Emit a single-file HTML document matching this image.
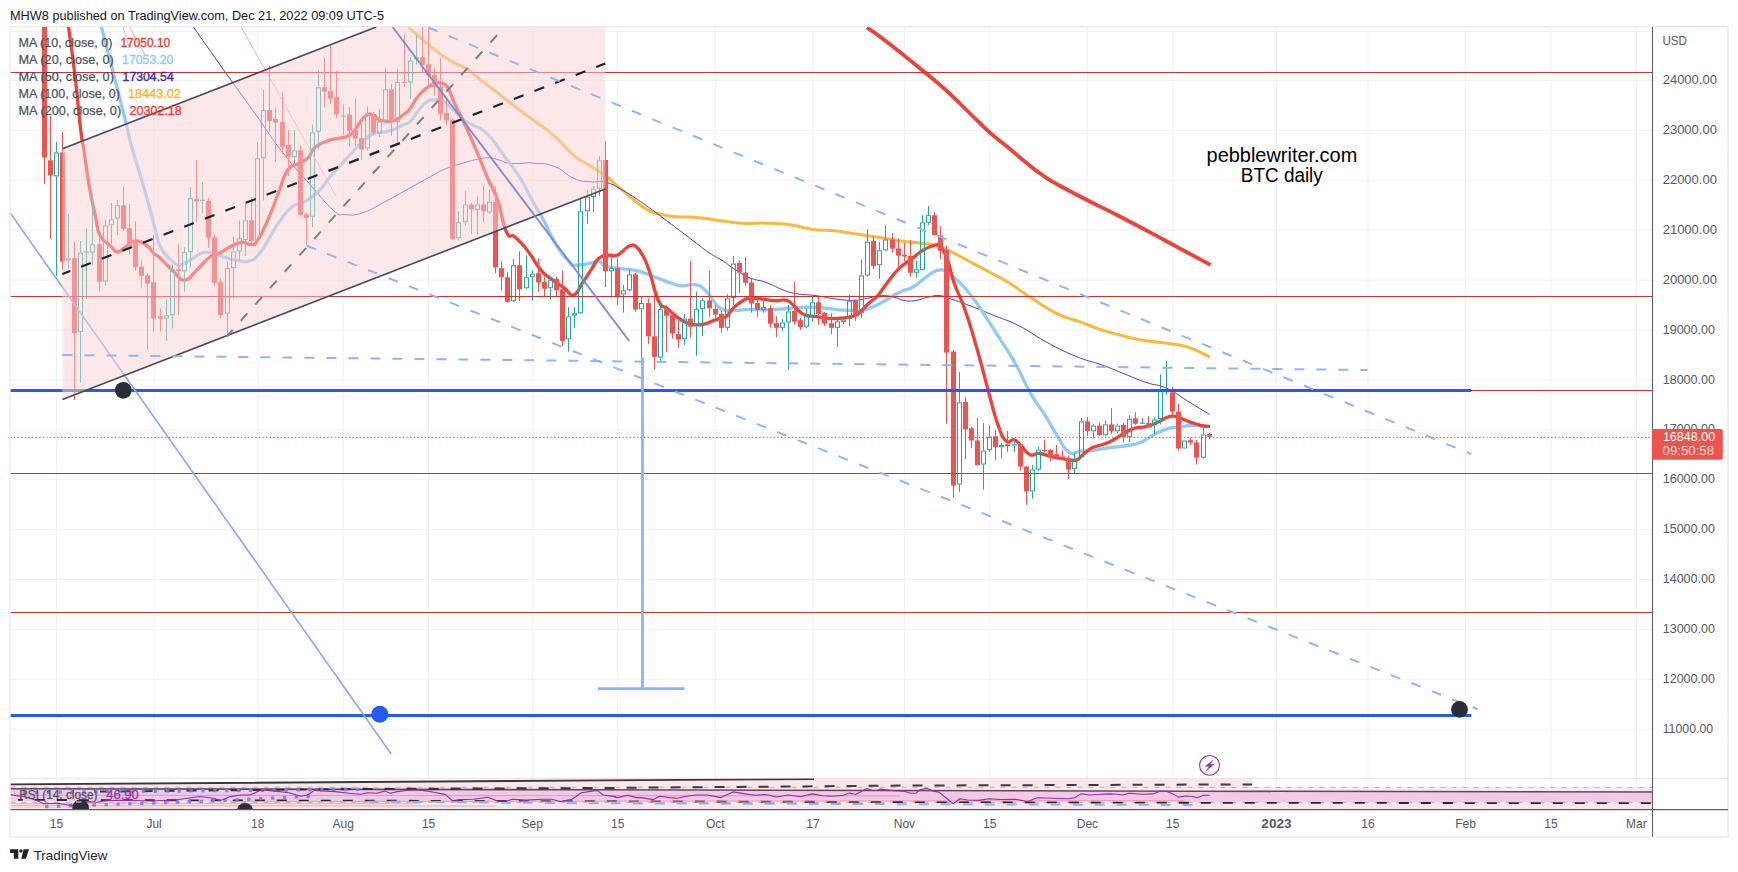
<!DOCTYPE html><html><head><meta charset="utf-8"><title>BTC daily</title><style>html,body{margin:0;padding:0;background:#fff;}svg{display:block;font-family:"Liberation Sans", Arial, sans-serif;}</style></head><body>
<svg width="1738" height="872" viewBox="0 0 1738 872">
<defs><clipPath id="cm"><rect x="10.5" y="27" width="1642" height="751.5"/></clipPath><clipPath id="cr"><rect x="10.5" y="778.5" width="1642" height="31"/></clipPath></defs>
<rect width="1738" height="872" fill="#fff"/>
<text x="10" y="19.6" font-size="12.7" fill="#131722" textLength="374" lengthAdjust="spacingAndGlyphs">MHW8 published on TradingView.com, Dec 21, 2022 09:09 UTC-5</text>
<rect x="10" y="26.7" width="1718" height="810" fill="#fff" stroke="#e0e3eb" stroke-width="1"/>
<line x1="9.5" y1="837" x2="1728.5" y2="837" stroke="#eceef5" stroke-width="2"/>
<line x1="1728" y1="26.5" x2="1728" y2="837" stroke="#eceef5" stroke-width="2"/>
<line x1="56.5" y1="27" x2="56.5" y2="809" stroke="#eef1f8" stroke-width="1"/>
<line x1="154.1" y1="27" x2="154.1" y2="809" stroke="#eef1f8" stroke-width="1"/>
<line x1="257.8" y1="27" x2="257.8" y2="809" stroke="#eef1f8" stroke-width="1"/>
<line x1="343.2" y1="27" x2="343.2" y2="809" stroke="#eef1f8" stroke-width="1"/>
<line x1="428.6" y1="27" x2="428.6" y2="809" stroke="#eef1f8" stroke-width="1"/>
<line x1="532.3" y1="27" x2="532.3" y2="809" stroke="#eef1f8" stroke-width="1"/>
<line x1="617.7" y1="27" x2="617.7" y2="809" stroke="#eef1f8" stroke-width="1"/>
<line x1="715.3" y1="27" x2="715.3" y2="809" stroke="#eef1f8" stroke-width="1"/>
<line x1="812.9" y1="27" x2="812.9" y2="809" stroke="#eef1f8" stroke-width="1"/>
<line x1="904.4" y1="27" x2="904.4" y2="809" stroke="#eef1f8" stroke-width="1"/>
<line x1="989.8" y1="27" x2="989.8" y2="809" stroke="#eef1f8" stroke-width="1"/>
<line x1="1087.4" y1="27" x2="1087.4" y2="809" stroke="#eef1f8" stroke-width="1"/>
<line x1="1172.8" y1="27" x2="1172.8" y2="809" stroke="#eef1f8" stroke-width="1"/>
<line x1="1276.5" y1="27" x2="1276.5" y2="809" stroke="#eef1f8" stroke-width="1"/>
<line x1="1368.0" y1="27" x2="1368.0" y2="809" stroke="#eef1f8" stroke-width="1"/>
<line x1="1465.6" y1="27" x2="1465.6" y2="809" stroke="#eef1f8" stroke-width="1"/>
<line x1="1551.0" y1="27" x2="1551.0" y2="809" stroke="#eef1f8" stroke-width="1"/>
<line x1="1636.4" y1="27" x2="1636.4" y2="809" stroke="#eef1f8" stroke-width="1"/>
<line x1="10.5" y1="729.2" x2="1652" y2="729.2" stroke="#eef1f8" stroke-width="1"/>
<line x1="10.5" y1="679.3" x2="1652" y2="679.3" stroke="#eef1f8" stroke-width="1"/>
<line x1="10.5" y1="629.4" x2="1652" y2="629.4" stroke="#eef1f8" stroke-width="1"/>
<line x1="10.5" y1="579.5" x2="1652" y2="579.5" stroke="#eef1f8" stroke-width="1"/>
<line x1="10.5" y1="529.6" x2="1652" y2="529.6" stroke="#eef1f8" stroke-width="1"/>
<line x1="10.5" y1="479.7" x2="1652" y2="479.7" stroke="#eef1f8" stroke-width="1"/>
<line x1="10.5" y1="429.8" x2="1652" y2="429.8" stroke="#eef1f8" stroke-width="1"/>
<line x1="10.5" y1="379.9" x2="1652" y2="379.9" stroke="#eef1f8" stroke-width="1"/>
<line x1="10.5" y1="330.0" x2="1652" y2="330.0" stroke="#eef1f8" stroke-width="1"/>
<line x1="10.5" y1="280.1" x2="1652" y2="280.1" stroke="#eef1f8" stroke-width="1"/>
<line x1="10.5" y1="230.2" x2="1652" y2="230.2" stroke="#eef1f8" stroke-width="1"/>
<line x1="10.5" y1="180.3" x2="1652" y2="180.3" stroke="#eef1f8" stroke-width="1"/>
<line x1="10.5" y1="130.4" x2="1652" y2="130.4" stroke="#eef1f8" stroke-width="1"/>
<line x1="10.5" y1="80.5" x2="1652" y2="80.5" stroke="#eef1f8" stroke-width="1"/>
<line x1="10.5" y1="31.5" x2="1652" y2="31.5" stroke="#eef1f8" stroke-width="1"/>
<g clip-path="url(#cm)">
<path d="M866.8 27.5C871.3 30.7 870.5 29.4 884.7 40.3C898.9 51.2 907.9 58.5 923.5 71.3C939.1 84.1 936.2 81.5 947.3 91.5C958.4 101.5 957.6 101.4 968.0 111.5C978.4 121.6 979.2 123.1 989.0 131.8C998.8 140.6 998.0 139.1 1007.0 146.5C1016.0 153.9 1015.8 154.3 1024.8 161.6C1033.8 168.8 1034.8 169.8 1043.0 175.5C1051.2 181.2 1046.5 178.3 1057.6 184.5C1068.7 190.7 1071.0 191.9 1087.4 200.3C1103.8 208.7 1103.1 207.8 1123.2 218.2C1143.3 228.6 1146.1 230.3 1167.9 242.0C1189.7 253.7 1199.8 259.2 1210.5 265.0" fill="none" stroke="#ee4237" stroke-width="3.8" stroke-linejoin="round" stroke-linecap="butt" />
<path d="M408.8 27.3C414.5 32.4 421.6 39.3 431.7 47.5C441.8 55.7 440.2 54.5 449.2 60.0C458.2 65.5 459.7 64.4 467.8 69.6C475.9 74.8 474.6 75.2 481.5 80.6C488.4 85.9 488.4 85.7 495.3 91.0C502.2 96.3 500.3 95.3 509.0 102.0C517.7 108.7 519.0 109.6 530.0 117.8C541.0 126.0 542.0 125.3 552.9 134.7C563.8 144.1 564.4 147.6 573.6 155.3C582.8 163.0 581.6 160.4 589.6 165.6C597.6 170.8 597.7 170.0 605.7 176.0C613.7 182.0 612.0 181.7 621.7 189.7C631.5 197.7 635.5 202.1 644.7 208.1C653.9 214.1 650.4 211.6 658.4 213.8C666.4 216.0 667.6 216.0 676.8 216.8C686.0 217.7 684.5 216.3 695.1 217.2C705.7 218.1 707.0 219.0 719.0 220.5C731.0 222.0 731.2 222.5 742.9 223.2C754.6 223.9 754.4 222.8 765.9 223.2C777.4 223.5 777.3 223.1 788.8 224.6C800.2 226.1 800.2 227.6 811.7 229.2C823.2 230.8 823.2 229.6 834.7 230.8C846.2 232.1 846.1 232.5 857.6 234.2C869.1 235.9 869.6 236.0 880.6 237.7C891.6 239.4 890.9 239.6 901.5 241.0C912.1 242.4 914.1 242.2 922.9 243.4C931.7 244.6 929.2 243.4 936.7 245.7C944.2 248.0 943.6 248.1 952.8 252.6C962.0 257.1 963.7 258.5 973.4 263.6C983.1 268.8 982.5 268.2 991.7 273.2C1000.9 278.2 1000.9 277.8 1010.1 283.5C1019.3 289.2 1016.9 288.7 1028.4 296.1C1039.9 303.6 1043.4 307.0 1056.0 313.3C1068.6 319.6 1067.9 317.4 1078.9 321.4C1089.9 325.4 1089.7 326.0 1100.0 329.4C1110.3 332.8 1109.7 332.4 1120.0 335.0C1130.3 337.6 1129.1 337.9 1141.3 340.0C1153.5 342.1 1157.3 341.7 1168.8 343.4C1180.3 345.1 1179.2 344.6 1187.2 346.9C1195.2 349.2 1195.2 350.0 1200.9 352.6C1206.6 355.2 1207.7 356.1 1210.0 357.2" fill="none" stroke="#fbb83a" stroke-width="3.0" stroke-linejoin="round" stroke-linecap="butt" />
<path d="M193.6 27.3C201.6 38.7 209.6 50.2 225.7 72.8C241.8 95.3 243.5 97.5 257.8 117.5C272.1 137.6 269.8 136.1 283.0 153.0C296.2 169.9 298.0 170.8 310.6 185.1C323.2 199.4 324.9 203.1 333.5 210.4C342.1 217.8 337.6 213.9 345.0 214.5C352.4 215.1 352.7 216.0 362.9 212.7C373.1 209.4 374.4 207.2 385.9 201.2C397.4 195.2 397.4 194.9 408.8 188.6C420.2 182.3 422.4 181.0 431.7 176.0C440.9 171.0 437.5 172.1 445.8 168.7C454.1 165.3 456.8 164.9 465.0 162.5C473.2 160.1 472.6 160.2 478.8 159.0C485.0 157.8 484.7 157.6 489.8 157.9C494.9 158.2 494.6 158.8 499.4 160.1C504.2 161.4 503.9 162.4 509.0 163.2C514.1 164.0 513.5 163.4 520.0 163.4C526.5 163.4 526.2 162.3 535.0 163.2C543.8 164.0 545.6 163.0 555.2 166.8C564.9 170.6 565.0 174.6 573.6 178.3C582.2 182.0 581.6 180.7 589.6 181.7C597.6 182.7 597.7 180.4 605.7 182.4C613.7 184.4 612.0 184.2 621.7 189.7C631.5 195.2 633.2 196.6 644.7 204.5C656.2 212.4 656.1 212.9 667.6 221.5C679.1 230.1 680.3 231.0 690.6 238.8C700.9 246.6 700.8 247.1 708.9 252.6C717.0 258.1 716.8 257.0 723.0 261.0C729.2 265.0 727.1 264.4 733.8 268.6C740.5 272.8 741.8 274.4 749.8 277.8C757.8 281.2 757.3 279.2 765.9 282.4C774.5 285.5 776.2 287.5 784.2 290.4C792.2 293.3 790.0 292.6 798.0 293.9C806.0 295.2 807.1 294.4 816.3 295.7C825.5 296.9 825.5 297.8 834.7 298.9C843.9 300.0 845.0 300.4 853.0 300.3C861.0 300.2 859.9 299.5 866.8 298.4C873.7 297.2 873.7 296.0 880.6 295.7C887.5 295.4 888.6 296.1 894.3 297.3C900.0 298.5 898.3 299.5 903.5 300.3C908.7 301.1 909.0 301.4 915.0 300.7C921.0 299.9 921.2 298.6 927.5 297.3C933.8 296.1 933.8 295.1 940.1 295.7C946.4 296.3 945.6 297.2 952.8 299.6C960.0 302.0 959.1 301.6 968.8 305.3C978.5 309.0 979.1 309.3 991.7 314.5C1004.3 319.7 1005.8 319.2 1019.3 326.0C1032.8 332.8 1031.6 334.0 1045.5 341.5C1059.4 349.0 1061.0 350.2 1075.0 356.0C1089.0 361.8 1089.5 360.5 1101.5 364.8C1113.5 369.1 1111.8 368.9 1122.9 373.3C1134.0 377.7 1135.0 378.7 1145.9 382.4C1156.8 386.1 1156.2 383.6 1166.5 388.2C1176.8 392.8 1176.4 394.2 1187.2 400.8C1198.0 407.4 1204.0 411.1 1209.6 414.5" fill="none" stroke="#5e35b1" stroke-width="1" stroke-linejoin="round" stroke-linecap="butt" />
<path d="M101.3 26.6C104.2 38.0 107.1 48.9 113.0 72.0C118.9 95.1 120.2 99.9 125.0 119.0C129.8 138.1 128.5 135.0 132.1 148.3C135.7 161.6 135.7 159.8 139.4 172.2C143.1 184.6 143.6 186.4 146.8 197.9C150.0 209.4 149.8 208.4 152.3 218.0C154.8 227.6 155.0 229.4 156.9 236.4C158.8 243.4 158.0 241.6 160.0 246.0C162.0 250.4 161.8 250.1 165.0 254.0C168.2 257.9 169.2 258.9 172.9 261.7C176.6 264.5 175.2 265.8 179.8 265.2C184.4 264.6 185.6 262.5 191.3 259.4C197.1 256.2 197.1 254.0 202.8 252.6C208.5 251.2 207.9 252.3 214.2 253.7C220.5 255.1 221.1 256.4 228.0 258.3C234.9 260.2 236.0 260.5 241.7 261.1C247.4 261.7 246.3 262.7 250.9 260.6C255.5 258.5 255.3 258.5 260.1 252.6C264.9 246.7 265.1 244.8 270.0 237.0C274.9 229.2 273.9 229.1 279.5 221.5C285.1 213.9 285.6 211.8 292.2 206.7C298.8 201.6 299.1 205.2 306.0 201.0C312.9 196.8 314.0 195.7 319.7 190.0C325.4 184.3 323.8 184.4 328.9 178.3C334.0 172.2 333.8 172.5 340.0 165.6C346.2 158.7 347.5 157.3 353.8 150.7C360.1 144.1 360.1 143.6 365.2 139.3C370.3 135.0 368.6 135.5 374.4 133.5C380.1 131.5 380.8 133.4 388.2 131.2C395.6 128.9 398.8 126.8 404.2 124.5C409.6 122.2 406.5 125.3 410.0 121.9C413.5 118.5 414.2 115.9 418.3 110.9C422.4 105.9 422.6 104.8 426.5 102.0C430.4 99.2 430.0 100.1 434.1 99.9C438.2 99.7 438.7 99.2 443.0 101.3C447.3 103.3 446.5 103.8 451.3 108.1C456.1 112.4 457.2 114.4 462.3 118.5C467.4 122.6 466.8 121.7 471.9 124.6C477.0 127.5 477.8 126.4 482.9 130.2C488.0 134.0 487.4 133.6 492.5 139.8C497.6 146.0 498.7 148.4 503.5 154.9C508.3 161.4 507.3 159.6 511.8 165.9C516.3 172.2 516.2 171.2 521.4 180.0C526.6 188.8 527.1 191.1 532.7 201.2C538.3 211.3 538.2 209.9 543.8 220.5C549.4 231.1 548.9 233.1 555.2 243.4C561.5 253.7 563.8 256.2 569.0 261.7C574.2 267.1 570.2 264.9 575.9 265.2C581.6 265.5 586.2 264.0 591.9 262.9C597.6 261.8 595.3 259.8 598.8 260.6C602.2 261.5 600.0 264.3 605.7 266.3C611.4 268.3 613.7 267.5 621.7 268.6C629.7 269.8 629.8 268.9 637.8 270.9C645.8 272.9 645.3 273.5 653.9 276.7C662.5 279.9 665.3 281.2 672.2 283.5C679.1 285.8 675.7 285.5 681.4 285.8C687.1 286.1 689.4 283.8 695.1 284.7C700.8 285.6 699.7 285.3 704.3 289.3C708.9 293.3 709.5 295.9 713.5 300.7C717.5 305.5 716.3 305.9 720.4 308.4C724.5 310.9 722.6 310.6 730.0 310.8C737.4 311.1 740.8 309.6 749.8 309.4C758.8 309.2 757.3 310.0 765.9 309.9C774.5 309.8 776.2 309.4 784.2 308.8C792.2 308.2 791.1 308.0 798.0 307.6C804.9 307.2 804.8 307.1 811.7 307.2C818.6 307.3 818.6 307.4 825.5 308.1C832.4 308.8 832.4 309.3 839.3 309.9C846.2 310.5 847.3 310.3 853.0 310.4C858.7 310.5 857.6 311.1 862.2 310.4C866.8 309.7 865.7 310.0 871.4 307.6C877.1 305.2 879.4 303.9 885.1 300.7C890.8 297.5 889.7 297.5 894.3 295.0C898.9 292.5 898.6 292.7 903.5 290.6C908.4 288.5 907.4 290.6 914.0 286.5C920.6 282.4 923.3 278.6 929.8 274.4C936.3 270.2 935.5 270.1 940.1 269.8C944.7 269.5 943.3 270.1 948.2 273.2C953.1 276.3 953.3 276.1 959.6 282.4C965.9 288.7 966.5 289.2 973.4 298.4C980.3 307.6 980.4 308.8 987.2 319.1C994.0 329.5 993.3 328.3 1000.6 339.8C1007.9 351.3 1008.9 351.9 1016.3 365.2C1023.7 378.4 1023.2 380.8 1030.1 392.8C1037.0 404.9 1037.0 402.5 1043.9 413.4C1050.8 424.3 1051.3 426.6 1057.6 436.3C1063.9 446.1 1063.3 448.7 1069.1 452.4C1074.8 456.1 1074.3 451.8 1080.6 451.2C1086.9 450.6 1087.4 451.0 1094.3 450.1C1101.2 449.2 1099.8 449.0 1108.1 447.8C1116.4 446.6 1119.2 446.9 1127.5 445.5C1135.8 444.1 1134.4 445.0 1141.3 442.1C1148.2 439.2 1148.1 437.4 1155.0 434.0C1161.9 430.6 1162.5 430.0 1168.8 428.3C1175.1 426.6 1174.6 427.9 1180.3 427.2C1186.0 426.4 1186.0 425.6 1191.7 425.3C1197.4 425.0 1198.6 425.7 1203.2 426.0C1207.8 426.3 1208.3 426.4 1210.0 426.5" fill="none" stroke="#90caf9" stroke-width="3.3" stroke-linejoin="round" stroke-linecap="butt" />
<path d="M68.5 26.6C70.2 40.0 72.5 54.1 75.5 80.0C78.5 105.9 78.5 112.0 80.7 130.0C82.9 148.0 82.1 138.0 84.2 152.0C86.3 166.0 86.4 169.9 89.2 186.0C92.0 202.1 92.7 203.8 95.4 216.2C98.1 228.6 96.3 228.2 100.0 235.5C103.7 242.8 105.8 241.5 110.1 245.6C114.4 249.7 113.7 251.6 117.4 252.0C121.1 252.4 120.2 250.2 124.8 247.4C129.4 244.7 130.3 241.4 135.8 241.0C141.3 240.6 142.2 242.4 146.8 245.6C151.4 248.8 151.0 251.0 154.1 253.9C157.2 256.8 154.5 252.9 159.2 257.2C163.9 261.4 166.6 265.2 172.9 270.9C179.2 276.6 178.7 280.1 184.4 280.1C190.2 280.1 189.6 276.6 195.9 270.9C202.2 265.2 203.9 261.5 209.6 257.2C215.3 252.9 214.2 256.0 218.8 253.7C223.4 251.4 222.3 250.9 228.0 248.0C233.7 245.1 236.0 243.1 241.7 242.2C247.4 241.3 246.9 245.1 250.9 244.5C254.9 243.9 253.2 247.0 257.8 240.0C262.4 233.0 264.2 228.2 269.3 216.5C274.4 204.8 273.8 204.6 278.4 193.0C283.0 181.4 282.4 177.6 287.6 170.2C292.8 162.8 293.9 166.5 299.1 163.3C304.3 160.2 304.3 161.6 308.3 157.6C312.3 153.6 310.0 151.6 315.1 147.3C320.2 143.0 322.7 142.7 328.9 140.4C335.1 138.1 334.4 139.7 340.0 138.0C345.6 136.3 345.2 138.9 351.5 133.5C357.8 128.1 359.5 120.7 365.2 116.3C370.9 111.9 370.9 115.0 374.4 115.9C377.8 116.8 374.4 118.5 379.0 119.8C383.6 121.0 386.5 122.4 392.8 120.9C399.1 119.5 399.9 117.0 404.2 114.0C408.5 111.0 407.2 112.3 410.0 108.8C412.8 105.3 412.4 104.2 415.5 99.9C418.6 95.6 418.6 95.2 422.4 91.6C426.2 88.0 426.5 87.6 430.6 85.4C434.7 83.2 435.3 82.9 438.9 82.7C442.5 82.5 442.5 82.9 445.1 84.8C447.7 86.7 446.6 85.1 449.2 90.3C451.8 95.5 451.9 97.9 455.4 105.4C458.8 113.0 459.2 112.6 463.0 120.5C466.8 128.4 466.6 128.1 470.5 137.0C474.4 145.9 474.3 145.6 478.8 156.3C483.3 167.1 485.2 172.6 488.4 180.0C491.5 187.4 488.9 180.5 491.4 186.0C493.9 191.5 494.6 190.6 498.3 202.1C502.0 213.6 502.3 223.3 506.3 231.9C510.3 240.5 510.0 233.1 514.3 236.5C518.6 239.9 519.6 241.3 523.5 245.7C527.4 250.1 525.5 247.7 530.0 254.0C534.5 260.3 535.8 264.4 541.5 270.9C547.2 277.4 547.2 275.8 552.9 280.1C558.6 284.4 559.2 284.4 564.4 288.1C569.6 291.8 569.0 296.4 573.6 295.0C578.2 293.6 578.2 289.0 582.8 282.4C587.4 275.8 587.9 274.6 591.9 268.6C595.9 262.6 594.8 261.6 598.8 258.3C602.8 255.0 603.4 256.1 608.0 255.3C612.6 254.6 612.6 257.1 617.2 255.3C621.8 253.5 622.9 250.4 626.3 248.0C629.7 245.6 628.6 246.2 630.9 245.7C633.2 245.2 632.6 243.8 635.5 246.1C638.4 248.4 639.0 248.7 642.4 254.9C645.8 261.1 645.3 259.4 649.3 270.9C653.3 282.3 653.8 291.2 658.4 300.7C663.0 310.2 663.0 304.8 667.6 308.8C672.2 312.8 672.2 313.4 676.8 316.8C681.4 320.2 681.4 320.5 686.0 322.5C690.6 324.5 690.5 324.4 695.1 324.8C699.7 325.2 699.7 325.2 704.3 324.1C708.9 323.0 709.1 322.1 713.5 320.5C717.9 318.9 718.6 318.6 722.0 317.5C725.4 316.4 724.0 318.5 726.9 316.0C729.8 313.5 729.8 311.4 733.8 307.6C737.8 303.8 738.9 303.0 742.9 300.7C746.9 298.4 745.2 298.8 749.8 298.4C754.4 297.9 755.0 298.3 761.3 298.9C767.6 299.5 768.7 300.3 775.0 300.7C781.3 301.1 781.9 299.1 786.5 300.3C791.1 301.5 790.0 302.3 793.4 305.3C796.8 308.3 796.8 309.6 800.3 312.2C803.8 314.8 802.6 314.5 807.2 315.6C811.8 316.8 812.9 316.1 818.6 316.8C824.3 317.6 823.8 318.3 830.1 318.6C836.4 318.9 837.6 318.6 843.9 317.9C850.2 317.1 850.7 317.6 855.3 315.6C859.9 313.6 858.8 313.0 862.2 309.9C865.7 306.8 865.1 306.7 869.1 303.0C873.1 299.3 873.7 300.1 878.3 295.0C882.9 289.9 882.2 289.0 887.4 282.4C892.5 275.8 893.0 274.4 898.9 268.6C904.8 262.9 905.0 264.0 911.0 259.4C917.0 254.8 917.0 253.9 922.9 250.3C928.8 246.8 930.6 246.5 934.4 245.2C938.2 243.9 936.3 244.8 938.0 245.2C939.7 245.6 938.8 242.7 941.3 246.8C943.8 250.9 945.1 252.8 948.2 261.7C951.4 270.6 949.9 270.9 953.9 282.4C957.9 293.9 959.3 294.0 964.2 307.6C969.1 321.2 969.2 322.1 973.6 337.0C978.0 351.9 978.2 353.1 982.0 367.0C985.8 380.9 984.8 378.3 988.8 392.8C992.8 407.3 993.7 412.9 998.0 424.9C1002.3 436.9 1002.0 437.2 1006.0 440.9C1010.0 444.6 1010.3 438.6 1014.0 439.8C1017.7 441.0 1016.9 441.8 1020.9 445.5C1024.9 449.2 1025.5 452.7 1030.1 454.7C1034.7 456.7 1033.6 452.9 1039.3 453.5C1045.0 454.1 1046.1 455.6 1053.0 457.0C1059.9 458.4 1061.0 458.5 1066.8 459.3C1072.5 460.1 1072.0 461.5 1076.0 460.4C1080.0 459.2 1078.8 457.8 1082.8 454.7C1086.8 451.6 1087.5 450.2 1092.0 447.8C1096.5 445.4 1096.1 446.7 1101.0 445.0C1105.9 443.3 1106.0 443.6 1111.5 440.9C1117.0 438.1 1117.2 437.1 1122.9 434.0C1128.6 430.9 1128.7 430.1 1134.4 428.3C1140.2 426.5 1140.2 428.1 1145.9 426.7C1151.6 425.3 1152.2 424.9 1157.3 422.6C1162.4 420.3 1162.5 419.1 1166.5 417.5C1170.5 415.9 1170.0 416.0 1173.4 416.1C1176.9 416.2 1175.7 416.4 1180.3 418.0C1184.9 419.6 1186.5 420.8 1191.7 422.6C1196.9 424.4 1196.3 424.3 1200.9 425.3C1205.5 426.3 1207.7 426.4 1210.0 426.7" fill="none" stroke="#ee4237" stroke-width="3.3" stroke-linejoin="round" stroke-linecap="butt" />
<path d="M44.5 20.0V183.8" stroke="#ef5350" stroke-width="1" fill="none"/>
<rect x="42.0" y="20.0" width="5" height="137.5" fill="#ef5350"/>
<path d="M50.5 116.0V238.6" stroke="#ef5350" stroke-width="1" fill="none"/>
<rect x="48.0" y="160.3" width="5" height="15.2" fill="#ef5350"/>
<path d="M56.5 142.0V152.4M56.5 176.4V275.9" stroke="#26a69a" stroke-width="1" fill="none"/>
<rect x="54.5" y="152.9" width="4" height="23.0" fill="none" stroke="#26a69a" stroke-width="1"/>
<path d="M62.5 132.2V269.8" stroke="#ef5350" stroke-width="1" fill="none"/>
<rect x="60.0" y="152.4" width="5" height="109.3" fill="#ef5350"/>
<path d="M68.5 214.0V258.4M68.5 260.6V268.5" stroke="#26a69a" stroke-width="1" fill="none"/>
<rect x="66.5" y="258.9" width="4" height="1.2" fill="none" stroke="#26a69a" stroke-width="1"/>
<path d="M74.5 242.0V399.8" stroke="#ef5350" stroke-width="1" fill="none"/>
<rect x="72.0" y="258.1" width="5" height="74.7" fill="#ef5350"/>
<path d="M80.5 241.0V252.6M80.5 332.1V382.6" stroke="#26a69a" stroke-width="1" fill="none"/>
<rect x="78.5" y="253.1" width="4" height="78.5" fill="none" stroke="#26a69a" stroke-width="1"/>
<path d="M86.5 228.2V251.5M86.5 252.7V298.5" stroke="#26a69a" stroke-width="1" fill="none"/>
<rect x="84.0" y="251.5" width="5" height="1.2" fill="#26a69a"/>
<path d="M92.5 194.6V244.3M92.5 252.6V264.9" stroke="#26a69a" stroke-width="1" fill="none"/>
<rect x="90.5" y="244.8" width="4" height="7.3" fill="none" stroke="#26a69a" stroke-width="1"/>
<path d="M99.5 238.0V291.6" stroke="#ef5350" stroke-width="1" fill="none"/>
<rect x="97.0" y="244.1" width="5" height="37.7" fill="#ef5350"/>
<path d="M105.5 220.0V225.4M105.5 281.5V285.5" stroke="#26a69a" stroke-width="1" fill="none"/>
<rect x="103.5" y="225.9" width="4" height="55.1" fill="none" stroke="#26a69a" stroke-width="1"/>
<path d="M111.5 203.0V219.4M111.5 225.4V243.8" stroke="#26a69a" stroke-width="1" fill="none"/>
<rect x="109.5" y="219.9" width="4" height="5.0" fill="none" stroke="#26a69a" stroke-width="1"/>
<path d="M117.5 199.7V205.2M117.5 218.6V235.0" stroke="#26a69a" stroke-width="1" fill="none"/>
<rect x="115.5" y="205.7" width="4" height="12.4" fill="none" stroke="#26a69a" stroke-width="1"/>
<path d="M123.5 186.0V231.0" stroke="#ef5350" stroke-width="1" fill="none"/>
<rect x="121.0" y="205.2" width="5" height="23.9" fill="#ef5350"/>
<path d="M129.5 204.0V254.8" stroke="#ef5350" stroke-width="1" fill="none"/>
<rect x="127.0" y="228.2" width="5" height="17.8" fill="#ef5350"/>
<path d="M135.5 221.2V270.8" stroke="#ef5350" stroke-width="1" fill="none"/>
<rect x="133.0" y="241.9" width="5" height="25.4" fill="#ef5350"/>
<path d="M141.5 260.0V287.5" stroke="#ef5350" stroke-width="1" fill="none"/>
<rect x="139.0" y="266.7" width="5" height="9.1" fill="#ef5350"/>
<path d="M147.5 273.0V349.9" stroke="#ef5350" stroke-width="1" fill="none"/>
<rect x="145.0" y="275.2" width="5" height="8.4" fill="#ef5350"/>
<path d="M153.5 235.0V331.6" stroke="#ef5350" stroke-width="1" fill="none"/>
<rect x="151.0" y="282.2" width="5" height="36.4" fill="#ef5350"/>
<path d="M160.5 308.3V331.7" stroke="#ef5350" stroke-width="1" fill="none"/>
<rect x="158.0" y="316.2" width="5" height="2.4" fill="#ef5350"/>
<path d="M166.5 299.1V315.2M166.5 318.6V340.9" stroke="#26a69a" stroke-width="1" fill="none"/>
<rect x="164.5" y="315.7" width="4" height="2.4" fill="none" stroke="#26a69a" stroke-width="1"/>
<path d="M172.5 264.5V269.3M172.5 315.2V328.3" stroke="#26a69a" stroke-width="1" fill="none"/>
<rect x="170.5" y="269.8" width="4" height="44.9" fill="none" stroke="#26a69a" stroke-width="1"/>
<path d="M178.5 244.1V315.0" stroke="#ef5350" stroke-width="1" fill="none"/>
<rect x="176.0" y="269.3" width="5" height="2.1" fill="#ef5350"/>
<path d="M184.5 247.3V252.1M184.5 271.4V291.6" stroke="#26a69a" stroke-width="1" fill="none"/>
<rect x="182.5" y="252.6" width="4" height="18.3" fill="none" stroke="#26a69a" stroke-width="1"/>
<path d="M190.5 187.3V198.2M190.5 252.1V267.5" stroke="#26a69a" stroke-width="1" fill="none"/>
<rect x="188.5" y="198.7" width="4" height="52.9" fill="none" stroke="#26a69a" stroke-width="1"/>
<path d="M196.5 159.9V221.6" stroke="#ef5350" stroke-width="1" fill="none"/>
<rect x="194.0" y="199.2" width="5" height="2.2" fill="#ef5350"/>
<path d="M202.5 182.4V199.8M202.5 201.0V213.2" stroke="#26a69a" stroke-width="1" fill="none"/>
<rect x="200.0" y="199.8" width="5" height="1.2" fill="#26a69a"/>
<path d="M208.5 198.0V248.0" stroke="#ef5350" stroke-width="1" fill="none"/>
<rect x="206.0" y="200.8" width="5" height="36.9" fill="#ef5350"/>
<path d="M214.5 235.0V285.8" stroke="#ef5350" stroke-width="1" fill="none"/>
<rect x="212.0" y="237.2" width="5" height="45.6" fill="#ef5350"/>
<path d="M220.5 278.3V317.9" stroke="#ef5350" stroke-width="1" fill="none"/>
<rect x="218.0" y="281.9" width="5" height="33.1" fill="#ef5350"/>
<path d="M227.5 261.3V268.2M227.5 313.6V336.3" stroke="#26a69a" stroke-width="1" fill="none"/>
<rect x="225.5" y="268.7" width="4" height="44.4" fill="none" stroke="#26a69a" stroke-width="1"/>
<path d="M233.5 236.5V251.4M233.5 268.2V298.4" stroke="#26a69a" stroke-width="1" fill="none"/>
<rect x="231.5" y="251.9" width="4" height="15.8" fill="none" stroke="#26a69a" stroke-width="1"/>
<path d="M239.5 220.5V238.3M239.5 251.4V260.6" stroke="#26a69a" stroke-width="1" fill="none"/>
<rect x="237.5" y="238.8" width="4" height="12.1" fill="none" stroke="#26a69a" stroke-width="1"/>
<path d="M245.5 201.2V220.3M245.5 240.0V256.0" stroke="#26a69a" stroke-width="1" fill="none"/>
<rect x="243.5" y="220.8" width="4" height="18.7" fill="none" stroke="#26a69a" stroke-width="1"/>
<path d="M251.5 197.2V243.0" stroke="#ef5350" stroke-width="1" fill="none"/>
<rect x="249.0" y="220.2" width="5" height="20.9" fill="#ef5350"/>
<path d="M257.5 142.2V158.3M257.5 240.0V241.5" stroke="#26a69a" stroke-width="1" fill="none"/>
<rect x="255.5" y="158.8" width="4" height="80.7" fill="none" stroke="#26a69a" stroke-width="1"/>
<path d="M263.5 90.0V110.1M263.5 158.3V200.5" stroke="#26a69a" stroke-width="1" fill="none"/>
<rect x="261.5" y="110.6" width="4" height="47.2" fill="none" stroke="#26a69a" stroke-width="1"/>
<path d="M269.5 65.9V132.4" stroke="#ef5350" stroke-width="1" fill="none"/>
<rect x="267.0" y="110.1" width="5" height="10.8" fill="#ef5350"/>
<path d="M275.5 107.6V162.2" stroke="#ef5350" stroke-width="1" fill="none"/>
<rect x="273.0" y="119.0" width="5" height="3.8" fill="#ef5350"/>
<path d="M282.5 92.2V154.2" stroke="#ef5350" stroke-width="1" fill="none"/>
<rect x="280.0" y="122.0" width="5" height="24.8" fill="#ef5350"/>
<path d="M288.5 130.0V176.0" stroke="#ef5350" stroke-width="1" fill="none"/>
<rect x="286.0" y="145.0" width="5" height="11.9" fill="#ef5350"/>
<path d="M294.5 130.0V150.3M294.5 156.9V163.3" stroke="#26a69a" stroke-width="1" fill="none"/>
<rect x="292.5" y="150.8" width="4" height="5.6" fill="none" stroke="#26a69a" stroke-width="1"/>
<path d="M300.5 145.7V216.8" stroke="#ef5350" stroke-width="1" fill="none"/>
<rect x="298.0" y="150.3" width="5" height="64.7" fill="#ef5350"/>
<path d="M306.5 213.0V245.2" stroke="#ef5350" stroke-width="1" fill="none"/>
<rect x="304.0" y="214.3" width="5" height="3.4" fill="#ef5350"/>
<path d="M312.5 124.4V132.4M312.5 216.8V227.0" stroke="#26a69a" stroke-width="1" fill="none"/>
<rect x="310.5" y="132.9" width="4" height="83.4" fill="none" stroke="#26a69a" stroke-width="1"/>
<path d="M318.5 70.0V87.2M318.5 131.7V149.6" stroke="#26a69a" stroke-width="1" fill="none"/>
<rect x="316.5" y="87.7" width="4" height="43.5" fill="none" stroke="#26a69a" stroke-width="1"/>
<path d="M324.5 57.8V107.6" stroke="#ef5350" stroke-width="1" fill="none"/>
<rect x="322.0" y="87.2" width="5" height="4.4" fill="#ef5350"/>
<path d="M330.5 46.4V103.7" stroke="#ef5350" stroke-width="1" fill="none"/>
<rect x="328.0" y="91.1" width="5" height="7.6" fill="#ef5350"/>
<path d="M336.5 70.9V118.2" stroke="#ef5350" stroke-width="1" fill="none"/>
<rect x="334.0" y="97.1" width="5" height="17.4" fill="#ef5350"/>
<path d="M343.5 104.4V134.7" stroke="#ef5350" stroke-width="1" fill="none"/>
<rect x="341.0" y="115.7" width="5" height="1.2" fill="#ef5350"/>
<path d="M349.5 107.2V146.6" stroke="#ef5350" stroke-width="1" fill="none"/>
<rect x="347.0" y="114.5" width="5" height="16.3" fill="#ef5350"/>
<path d="M355.5 98.0V145.7" stroke="#ef5350" stroke-width="1" fill="none"/>
<rect x="353.0" y="130.1" width="5" height="8.5" fill="#ef5350"/>
<path d="M361.5 119.1V159.9" stroke="#ef5350" stroke-width="1" fill="none"/>
<rect x="359.0" y="138.1" width="5" height="11.5" fill="#ef5350"/>
<path d="M367.5 106.0V114.5M367.5 148.4V150.7" stroke="#26a69a" stroke-width="1" fill="none"/>
<rect x="365.5" y="115.0" width="4" height="32.9" fill="none" stroke="#26a69a" stroke-width="1"/>
<path d="M373.5 111.7V134.7" stroke="#ef5350" stroke-width="1" fill="none"/>
<rect x="371.0" y="114.0" width="5" height="18.8" fill="#ef5350"/>
<path d="M379.5 109.0V121.6M379.5 133.5V137.0" stroke="#26a69a" stroke-width="1" fill="none"/>
<rect x="377.5" y="122.1" width="4" height="10.9" fill="none" stroke="#26a69a" stroke-width="1"/>
<path d="M385.5 68.2V89.3M385.5 120.9V122.0" stroke="#26a69a" stroke-width="1" fill="none"/>
<rect x="383.5" y="89.8" width="4" height="30.6" fill="none" stroke="#26a69a" stroke-width="1"/>
<path d="M391.5 84.2V135.8" stroke="#ef5350" stroke-width="1" fill="none"/>
<rect x="389.0" y="89.3" width="5" height="32.7" fill="#ef5350"/>
<path d="M397.5 68.9V81.9M397.5 122.0V143.9" stroke="#26a69a" stroke-width="1" fill="none"/>
<rect x="395.5" y="82.4" width="4" height="39.1" fill="none" stroke="#26a69a" stroke-width="1"/>
<path d="M404.5 34.2V87.2" stroke="#ef5350" stroke-width="1" fill="none"/>
<rect x="402.0" y="81.8" width="5" height="1.2" fill="#ef5350"/>
<path d="M410.5 56.7V60.6M410.5 82.4V99.1" stroke="#26a69a" stroke-width="1" fill="none"/>
<rect x="408.5" y="61.1" width="4" height="20.8" fill="none" stroke="#26a69a" stroke-width="1"/>
<path d="M416.5 34.9V57.2M416.5 59.4V64.7" stroke="#26a69a" stroke-width="1" fill="none"/>
<rect x="414.0" y="57.2" width="5" height="2.2" fill="#26a69a"/>
<path d="M422.5 20.0V72.8" stroke="#ef5350" stroke-width="1" fill="none"/>
<rect x="420.0" y="57.2" width="5" height="7.5" fill="#ef5350"/>
<path d="M428.5 20.0V86.5" stroke="#ef5350" stroke-width="1" fill="none"/>
<rect x="426.0" y="64.3" width="5" height="11.2" fill="#ef5350"/>
<path d="M434.5 67.7V95.7" stroke="#ef5350" stroke-width="1" fill="none"/>
<rect x="432.0" y="75.0" width="5" height="12.2" fill="#ef5350"/>
<path d="M440.5 57.8V120.5" stroke="#ef5350" stroke-width="1" fill="none"/>
<rect x="438.0" y="86.5" width="5" height="27.5" fill="#ef5350"/>
<path d="M446.5 99.1V125.0" stroke="#ef5350" stroke-width="1" fill="none"/>
<rect x="444.0" y="112.9" width="5" height="7.6" fill="#ef5350"/>
<path d="M452.5 118.0V240.0" stroke="#ef5350" stroke-width="1" fill="none"/>
<rect x="450.0" y="119.8" width="5" height="119.0" fill="#ef5350"/>
<path d="M458.5 211.3V222.3M458.5 238.3V240.6" stroke="#26a69a" stroke-width="1" fill="none"/>
<rect x="456.5" y="222.8" width="4" height="15.0" fill="none" stroke="#26a69a" stroke-width="1"/>
<path d="M465.5 191.1V204.4M465.5 222.3V225.7" stroke="#26a69a" stroke-width="1" fill="none"/>
<rect x="463.5" y="204.9" width="4" height="16.9" fill="none" stroke="#26a69a" stroke-width="1"/>
<path d="M471.5 203.0V234.2" stroke="#ef5350" stroke-width="1" fill="none"/>
<rect x="469.0" y="204.4" width="5" height="5.0" fill="#ef5350"/>
<path d="M477.5 196.4V204.4M477.5 210.1V234.2" stroke="#26a69a" stroke-width="1" fill="none"/>
<rect x="475.5" y="204.9" width="4" height="4.7" fill="none" stroke="#26a69a" stroke-width="1"/>
<path d="M483.5 185.6V222.3" stroke="#ef5350" stroke-width="1" fill="none"/>
<rect x="481.0" y="204.4" width="5" height="6.9" fill="#ef5350"/>
<path d="M489.5 189.5V201.7M489.5 212.4V213.6" stroke="#26a69a" stroke-width="1" fill="none"/>
<rect x="487.5" y="202.2" width="4" height="9.7" fill="none" stroke="#26a69a" stroke-width="1"/>
<path d="M495.5 186.0V273.2" stroke="#ef5350" stroke-width="1" fill="none"/>
<rect x="493.0" y="201.7" width="5" height="65.8" fill="#ef5350"/>
<path d="M501.5 261.3V290.4" stroke="#ef5350" stroke-width="1" fill="none"/>
<rect x="499.0" y="268.2" width="5" height="9.1" fill="#ef5350"/>
<path d="M507.5 272.0V302.6" stroke="#ef5350" stroke-width="1" fill="none"/>
<rect x="505.0" y="277.3" width="5" height="24.6" fill="#ef5350"/>
<path d="M513.5 259.0V265.2M513.5 301.2V301.9" stroke="#26a69a" stroke-width="1" fill="none"/>
<rect x="511.5" y="265.7" width="4" height="35.0" fill="none" stroke="#26a69a" stroke-width="1"/>
<path d="M519.5 251.4V301.2" stroke="#ef5350" stroke-width="1" fill="none"/>
<rect x="517.0" y="265.2" width="5" height="24.1" fill="#ef5350"/>
<path d="M526.5 255.3V277.3M526.5 288.3V289.3" stroke="#26a69a" stroke-width="1" fill="none"/>
<rect x="524.5" y="277.8" width="4" height="10.0" fill="none" stroke="#26a69a" stroke-width="1"/>
<path d="M532.5 270.5V273.7M532.5 277.3V300.7" stroke="#26a69a" stroke-width="1" fill="none"/>
<rect x="530.5" y="274.2" width="4" height="2.6" fill="none" stroke="#26a69a" stroke-width="1"/>
<path d="M538.5 258.3V291.6" stroke="#ef5350" stroke-width="1" fill="none"/>
<rect x="536.0" y="273.2" width="5" height="9.2" fill="#ef5350"/>
<path d="M544.5 276.7V296.1" stroke="#ef5350" stroke-width="1" fill="none"/>
<rect x="542.0" y="281.9" width="5" height="6.9" fill="#ef5350"/>
<path d="M550.5 277.8V279.6M550.5 288.3V299.6" stroke="#26a69a" stroke-width="1" fill="none"/>
<rect x="548.5" y="280.1" width="4" height="7.7" fill="none" stroke="#26a69a" stroke-width="1"/>
<path d="M556.5 276.7V297.3" stroke="#ef5350" stroke-width="1" fill="none"/>
<rect x="554.0" y="278.9" width="5" height="11.5" fill="#ef5350"/>
<path d="M562.5 270.9V346.1" stroke="#ef5350" stroke-width="1" fill="none"/>
<rect x="560.0" y="289.3" width="5" height="51.6" fill="#ef5350"/>
<path d="M568.5 307.2V316.3M568.5 339.3V351.7" stroke="#26a69a" stroke-width="1" fill="none"/>
<rect x="566.5" y="316.8" width="4" height="22.0" fill="none" stroke="#26a69a" stroke-width="1"/>
<path d="M574.5 307.2V313.3M574.5 315.6V327.8" stroke="#26a69a" stroke-width="1" fill="none"/>
<rect x="572.5" y="313.8" width="4" height="1.3" fill="none" stroke="#26a69a" stroke-width="1"/>
<path d="M580.5 198.9V211.3M580.5 313.3V314.0" stroke="#26a69a" stroke-width="1" fill="none"/>
<rect x="578.5" y="211.8" width="4" height="101.0" fill="none" stroke="#26a69a" stroke-width="1"/>
<path d="M587.5 189.3V196.6M587.5 211.3V223.9" stroke="#26a69a" stroke-width="1" fill="none"/>
<rect x="585.5" y="197.1" width="4" height="13.7" fill="none" stroke="#26a69a" stroke-width="1"/>
<path d="M593.5 186.3V188.6M593.5 197.0V212.0" stroke="#26a69a" stroke-width="1" fill="none"/>
<rect x="591.5" y="189.1" width="4" height="7.4" fill="none" stroke="#26a69a" stroke-width="1"/>
<path d="M599.5 156.0V160.4M599.5 188.6V196.0" stroke="#26a69a" stroke-width="1" fill="none"/>
<rect x="597.5" y="160.9" width="4" height="27.2" fill="none" stroke="#26a69a" stroke-width="1"/>
<path d="M605.5 141.1V287.0" stroke="#ef5350" stroke-width="1" fill="none"/>
<rect x="603.0" y="160.0" width="5" height="111.4" fill="#ef5350"/>
<path d="M611.5 253.0V268.2M611.5 271.4V297.8" stroke="#26a69a" stroke-width="1" fill="none"/>
<rect x="609.5" y="268.7" width="4" height="2.2" fill="none" stroke="#26a69a" stroke-width="1"/>
<path d="M617.5 258.3V304.9" stroke="#ef5350" stroke-width="1" fill="none"/>
<rect x="615.0" y="268.2" width="5" height="27.9" fill="#ef5350"/>
<path d="M623.5 284.7V290.4M623.5 294.5V312.7" stroke="#26a69a" stroke-width="1" fill="none"/>
<rect x="621.5" y="290.9" width="4" height="3.1" fill="none" stroke="#26a69a" stroke-width="1"/>
<path d="M629.5 269.8V274.4M629.5 290.4V291.6" stroke="#26a69a" stroke-width="1" fill="none"/>
<rect x="627.5" y="274.9" width="4" height="15.0" fill="none" stroke="#26a69a" stroke-width="1"/>
<path d="M635.5 273.0V311.7" stroke="#ef5350" stroke-width="1" fill="none"/>
<rect x="633.0" y="274.4" width="5" height="35.0" fill="#ef5350"/>
<path d="M641.5 296.1V303.0M641.5 309.4V365.0" stroke="#26a69a" stroke-width="1" fill="none"/>
<rect x="639.5" y="303.5" width="4" height="5.4" fill="none" stroke="#26a69a" stroke-width="1"/>
<path d="M648.5 298.4V343.9" stroke="#ef5350" stroke-width="1" fill="none"/>
<rect x="646.0" y="303.0" width="5" height="33.3" fill="#ef5350"/>
<path d="M654.5 291.6V369.5" stroke="#ef5350" stroke-width="1" fill="none"/>
<rect x="652.0" y="336.3" width="5" height="20.6" fill="#ef5350"/>
<path d="M660.5 303.0V309.2M660.5 357.6V360.8" stroke="#26a69a" stroke-width="1" fill="none"/>
<rect x="658.5" y="309.7" width="4" height="47.4" fill="none" stroke="#26a69a" stroke-width="1"/>
<path d="M666.5 305.3V352.3" stroke="#ef5350" stroke-width="1" fill="none"/>
<rect x="664.0" y="309.2" width="5" height="6.4" fill="#ef5350"/>
<path d="M672.5 313.5V338.6" stroke="#ef5350" stroke-width="1" fill="none"/>
<rect x="670.0" y="315.0" width="5" height="18.5" fill="#ef5350"/>
<path d="M678.5 320.2V347.7" stroke="#ef5350" stroke-width="1" fill="none"/>
<rect x="676.0" y="334.0" width="5" height="5.7" fill="#ef5350"/>
<path d="M684.5 314.0V318.6M684.5 339.3V344.8" stroke="#26a69a" stroke-width="1" fill="none"/>
<rect x="682.5" y="319.1" width="4" height="19.7" fill="none" stroke="#26a69a" stroke-width="1"/>
<path d="M690.5 261.0V337.4" stroke="#ef5350" stroke-width="1" fill="none"/>
<rect x="688.0" y="318.6" width="5" height="8.1" fill="#ef5350"/>
<path d="M696.5 291.6V309.2M696.5 326.0V355.8" stroke="#26a69a" stroke-width="1" fill="none"/>
<rect x="694.5" y="309.7" width="4" height="15.8" fill="none" stroke="#26a69a" stroke-width="1"/>
<path d="M702.5 298.0V300.3M702.5 309.2V336.3" stroke="#26a69a" stroke-width="1" fill="none"/>
<rect x="700.5" y="300.8" width="4" height="7.9" fill="none" stroke="#26a69a" stroke-width="1"/>
<path d="M709.5 270.9V316.8" stroke="#ef5350" stroke-width="1" fill="none"/>
<rect x="707.0" y="300.3" width="5" height="8.0" fill="#ef5350"/>
<path d="M715.5 305.3V319.0" stroke="#ef5350" stroke-width="1" fill="none"/>
<rect x="713.0" y="308.8" width="5" height="5.7" fill="#ef5350"/>
<path d="M721.5 311.0V332.8" stroke="#ef5350" stroke-width="1" fill="none"/>
<rect x="719.0" y="314.0" width="5" height="13.8" fill="#ef5350"/>
<path d="M727.5 294.3V298.4M727.5 327.8V330.6" stroke="#26a69a" stroke-width="1" fill="none"/>
<rect x="725.5" y="298.9" width="4" height="28.4" fill="none" stroke="#26a69a" stroke-width="1"/>
<path d="M733.5 256.0V263.6M733.5 298.0V304.9" stroke="#26a69a" stroke-width="1" fill="none"/>
<rect x="731.5" y="264.1" width="4" height="33.4" fill="none" stroke="#26a69a" stroke-width="1"/>
<path d="M739.5 260.6V292.7" stroke="#ef5350" stroke-width="1" fill="none"/>
<rect x="737.0" y="262.9" width="5" height="9.6" fill="#ef5350"/>
<path d="M745.5 257.2V285.8" stroke="#ef5350" stroke-width="1" fill="none"/>
<rect x="743.0" y="272.5" width="5" height="10.3" fill="#ef5350"/>
<path d="M751.5 277.8V312.7" stroke="#ef5350" stroke-width="1" fill="none"/>
<rect x="749.0" y="282.4" width="5" height="21.1" fill="#ef5350"/>
<path d="M757.5 299.6V316.8" stroke="#ef5350" stroke-width="1" fill="none"/>
<rect x="755.0" y="303.0" width="5" height="6.9" fill="#ef5350"/>
<path d="M763.5 299.6V307.2M763.5 309.9V312.7" stroke="#26a69a" stroke-width="1" fill="none"/>
<rect x="761.5" y="307.7" width="4" height="1.7" fill="none" stroke="#26a69a" stroke-width="1"/>
<path d="M770.5 304.9V327.8" stroke="#ef5350" stroke-width="1" fill="none"/>
<rect x="768.0" y="308.1" width="5" height="15.6" fill="#ef5350"/>
<path d="M776.5 316.3V337.0" stroke="#ef5350" stroke-width="1" fill="none"/>
<rect x="774.0" y="323.2" width="5" height="4.6" fill="#ef5350"/>
<path d="M782.5 318.6V322.5M782.5 327.8V331.2" stroke="#26a69a" stroke-width="1" fill="none"/>
<rect x="780.5" y="323.0" width="4" height="4.3" fill="none" stroke="#26a69a" stroke-width="1"/>
<path d="M788.5 304.9V311.5M788.5 322.5V370.0" stroke="#26a69a" stroke-width="1" fill="none"/>
<rect x="786.5" y="312.0" width="4" height="10.0" fill="none" stroke="#26a69a" stroke-width="1"/>
<path d="M794.5 281.9V324.8" stroke="#ef5350" stroke-width="1" fill="none"/>
<rect x="792.0" y="311.0" width="5" height="10.8" fill="#ef5350"/>
<path d="M800.5 317.9V329.9" stroke="#ef5350" stroke-width="1" fill="none"/>
<rect x="798.0" y="320.2" width="5" height="6.9" fill="#ef5350"/>
<path d="M806.5 308.3V316.3M806.5 326.7V328.3" stroke="#26a69a" stroke-width="1" fill="none"/>
<rect x="804.5" y="316.8" width="4" height="9.4" fill="none" stroke="#26a69a" stroke-width="1"/>
<path d="M812.5 295.7V302.3M812.5 316.3V321.8" stroke="#26a69a" stroke-width="1" fill="none"/>
<rect x="810.5" y="302.8" width="4" height="13.0" fill="none" stroke="#26a69a" stroke-width="1"/>
<path d="M818.5 295.7V324.8" stroke="#ef5350" stroke-width="1" fill="none"/>
<rect x="816.0" y="302.3" width="5" height="11.7" fill="#ef5350"/>
<path d="M824.5 311.7V326.0" stroke="#ef5350" stroke-width="1" fill="none"/>
<rect x="822.0" y="312.9" width="5" height="10.8" fill="#ef5350"/>
<path d="M831.5 313.3V334.0" stroke="#ef5350" stroke-width="1" fill="none"/>
<rect x="829.0" y="323.2" width="5" height="4.6" fill="#ef5350"/>
<path d="M837.5 317.9V321.4M837.5 327.8V347.0" stroke="#26a69a" stroke-width="1" fill="none"/>
<rect x="835.5" y="321.9" width="4" height="5.4" fill="none" stroke="#26a69a" stroke-width="1"/>
<path d="M843.5 317.9V319.5M843.5 321.8V324.1" stroke="#26a69a" stroke-width="1" fill="none"/>
<rect x="841.5" y="320.0" width="4" height="1.3" fill="none" stroke="#26a69a" stroke-width="1"/>
<path d="M849.5 295.0V301.2M849.5 319.1V326.0" stroke="#26a69a" stroke-width="1" fill="none"/>
<rect x="847.5" y="301.7" width="4" height="16.9" fill="none" stroke="#26a69a" stroke-width="1"/>
<path d="M855.5 299.6V320.9" stroke="#ef5350" stroke-width="1" fill="none"/>
<rect x="853.0" y="300.7" width="5" height="14.3" fill="#ef5350"/>
<path d="M861.5 259.4V275.5M861.5 313.3V317.9" stroke="#26a69a" stroke-width="1" fill="none"/>
<rect x="859.5" y="276.0" width="4" height="36.8" fill="none" stroke="#26a69a" stroke-width="1"/>
<path d="M867.5 229.2V241.6M867.5 275.5V276.7" stroke="#26a69a" stroke-width="1" fill="none"/>
<rect x="865.5" y="242.1" width="4" height="32.9" fill="none" stroke="#26a69a" stroke-width="1"/>
<path d="M873.5 236.0V269.1" stroke="#ef5350" stroke-width="1" fill="none"/>
<rect x="871.0" y="241.1" width="5" height="24.8" fill="#ef5350"/>
<path d="M879.5 242.2V250.3M879.5 265.2V278.9" stroke="#26a69a" stroke-width="1" fill="none"/>
<rect x="877.5" y="250.8" width="4" height="13.9" fill="none" stroke="#26a69a" stroke-width="1"/>
<path d="M885.5 225.7V239.5M885.5 250.3V250.8" stroke="#26a69a" stroke-width="1" fill="none"/>
<rect x="883.5" y="240.0" width="4" height="9.8" fill="none" stroke="#26a69a" stroke-width="1"/>
<path d="M892.5 233.0V252.6" stroke="#ef5350" stroke-width="1" fill="none"/>
<rect x="890.0" y="239.5" width="5" height="9.2" fill="#ef5350"/>
<path d="M898.5 238.3V267.5" stroke="#ef5350" stroke-width="1" fill="none"/>
<rect x="896.0" y="248.4" width="5" height="7.2" fill="#ef5350"/>
<path d="M904.5 242.9V261.3" stroke="#ef5350" stroke-width="1" fill="none"/>
<rect x="902.0" y="254.9" width="5" height="1.6" fill="#ef5350"/>
<path d="M910.5 240.0V276.7" stroke="#ef5350" stroke-width="1" fill="none"/>
<rect x="908.0" y="256.0" width="5" height="16.8" fill="#ef5350"/>
<path d="M916.5 260.6V269.3M916.5 272.8V277.8" stroke="#26a69a" stroke-width="1" fill="none"/>
<rect x="914.5" y="269.8" width="4" height="2.5" fill="none" stroke="#26a69a" stroke-width="1"/>
<path d="M922.5 215.2V222.3M922.5 269.8V270.5" stroke="#26a69a" stroke-width="1" fill="none"/>
<rect x="920.5" y="222.8" width="4" height="46.5" fill="none" stroke="#26a69a" stroke-width="1"/>
<path d="M928.5 206.0V215.2M928.5 222.8V225.0" stroke="#26a69a" stroke-width="1" fill="none"/>
<rect x="926.5" y="215.7" width="4" height="6.6" fill="none" stroke="#26a69a" stroke-width="1"/>
<path d="M934.5 212.0V235.6" stroke="#ef5350" stroke-width="1" fill="none"/>
<rect x="932.0" y="215.2" width="5" height="19.7" fill="#ef5350"/>
<path d="M940.5 226.2V259.4" stroke="#ef5350" stroke-width="1" fill="none"/>
<rect x="938.0" y="235.4" width="5" height="15.3" fill="#ef5350"/>
<path d="M946.5 245.7V423.7" stroke="#ef5350" stroke-width="1" fill="none"/>
<rect x="944.0" y="249.8" width="5" height="102.8" fill="#ef5350"/>
<path d="M953.5 350.0V497.8" stroke="#ef5350" stroke-width="1" fill="none"/>
<rect x="951.0" y="351.5" width="5" height="134.1" fill="#ef5350"/>
<path d="M959.5 372.1V402.4M959.5 484.5V491.8" stroke="#26a69a" stroke-width="1" fill="none"/>
<rect x="957.5" y="402.9" width="4" height="81.1" fill="none" stroke="#26a69a" stroke-width="1"/>
<path d="M965.5 396.9V459.3" stroke="#ef5350" stroke-width="1" fill="none"/>
<rect x="963.0" y="401.9" width="5" height="27.5" fill="#ef5350"/>
<path d="M971.5 426.7V448.3" stroke="#ef5350" stroke-width="1" fill="none"/>
<rect x="969.0" y="428.3" width="5" height="12.2" fill="#ef5350"/>
<path d="M977.5 417.5V465.7" stroke="#ef5350" stroke-width="1" fill="none"/>
<rect x="975.0" y="440.5" width="5" height="24.5" fill="#ef5350"/>
<path d="M983.5 423.0V450.6M983.5 464.5V489.5" stroke="#26a69a" stroke-width="1" fill="none"/>
<rect x="981.5" y="451.1" width="4" height="12.9" fill="none" stroke="#26a69a" stroke-width="1"/>
<path d="M989.5 425.3V436.8M989.5 450.1V451.9" stroke="#26a69a" stroke-width="1" fill="none"/>
<rect x="987.5" y="437.3" width="4" height="12.3" fill="none" stroke="#26a69a" stroke-width="1"/>
<path d="M995.5 429.9V460.4" stroke="#ef5350" stroke-width="1" fill="none"/>
<rect x="993.0" y="436.3" width="5" height="11.0" fill="#ef5350"/>
<path d="M1001.5 443.2V445.0M1001.5 447.3V458.6" stroke="#26a69a" stroke-width="1" fill="none"/>
<rect x="999.5" y="445.5" width="4" height="1.3" fill="none" stroke="#26a69a" stroke-width="1"/>
<path d="M1007.5 431.0V451.7" stroke="#ef5350" stroke-width="1" fill="none"/>
<rect x="1005.0" y="444.4" width="5" height="1.6" fill="#ef5350"/>
<path d="M1014.5 438.6V444.3M1014.5 445.6V451.7" stroke="#26a69a" stroke-width="1" fill="none"/>
<rect x="1012.0" y="444.3" width="5" height="1.2" fill="#26a69a"/>
<path d="M1020.5 443.2V470.7" stroke="#ef5350" stroke-width="1" fill="none"/>
<rect x="1018.0" y="444.4" width="5" height="22.2" fill="#ef5350"/>
<path d="M1026.5 465.7V504.7" stroke="#ef5350" stroke-width="1" fill="none"/>
<rect x="1024.0" y="466.6" width="5" height="24.8" fill="#ef5350"/>
<path d="M1032.5 465.0V469.6M1032.5 491.4V498.7" stroke="#26a69a" stroke-width="1" fill="none"/>
<rect x="1030.5" y="470.1" width="4" height="20.8" fill="none" stroke="#26a69a" stroke-width="1"/>
<path d="M1038.5 447.1V449.6M1038.5 469.6V471.4" stroke="#26a69a" stroke-width="1" fill="none"/>
<rect x="1036.5" y="450.1" width="4" height="19.0" fill="none" stroke="#26a69a" stroke-width="1"/>
<path d="M1044.5 440.2V452.4" stroke="#ef5350" stroke-width="1" fill="none"/>
<rect x="1042.0" y="450.0" width="5" height="1.2" fill="#ef5350"/>
<path d="M1050.5 448.9V461.6" stroke="#ef5350" stroke-width="1" fill="none"/>
<rect x="1048.0" y="450.1" width="5" height="6.2" fill="#ef5350"/>
<path d="M1056.5 445.0V459.3" stroke="#ef5350" stroke-width="1" fill="none"/>
<rect x="1054.0" y="454.2" width="5" height="3.2" fill="#ef5350"/>
<path d="M1062.5 450.1V459.3" stroke="#ef5350" stroke-width="1" fill="none"/>
<rect x="1060.0" y="456.5" width="5" height="1.6" fill="#ef5350"/>
<path d="M1068.5 455.4V478.8" stroke="#ef5350" stroke-width="1" fill="none"/>
<rect x="1066.0" y="458.1" width="5" height="11.5" fill="#ef5350"/>
<path d="M1074.5 452.8V458.6M1074.5 469.1V473.5" stroke="#26a69a" stroke-width="1" fill="none"/>
<rect x="1072.5" y="459.1" width="4" height="9.5" fill="none" stroke="#26a69a" stroke-width="1"/>
<path d="M1081.5 418.0V421.4M1081.5 457.4V458.1" stroke="#26a69a" stroke-width="1" fill="none"/>
<rect x="1079.5" y="421.9" width="4" height="35.0" fill="none" stroke="#26a69a" stroke-width="1"/>
<path d="M1087.5 416.8V435.9" stroke="#ef5350" stroke-width="1" fill="none"/>
<rect x="1085.0" y="421.4" width="5" height="9.7" fill="#ef5350"/>
<path d="M1093.5 423.7V425.6M1093.5 431.3V438.6" stroke="#26a69a" stroke-width="1" fill="none"/>
<rect x="1091.5" y="426.1" width="4" height="4.7" fill="none" stroke="#26a69a" stroke-width="1"/>
<path d="M1099.5 422.6V435.9" stroke="#ef5350" stroke-width="1" fill="none"/>
<rect x="1097.0" y="425.6" width="5" height="9.6" fill="#ef5350"/>
<path d="M1105.5 420.3V424.4M1105.5 435.2V435.9" stroke="#26a69a" stroke-width="1" fill="none"/>
<rect x="1103.5" y="424.9" width="4" height="9.8" fill="none" stroke="#26a69a" stroke-width="1"/>
<path d="M1111.5 408.1V434.0" stroke="#ef5350" stroke-width="1" fill="none"/>
<rect x="1109.0" y="424.4" width="5" height="6.9" fill="#ef5350"/>
<path d="M1117.5 423.7V425.6M1117.5 431.3V433.6" stroke="#26a69a" stroke-width="1" fill="none"/>
<rect x="1115.5" y="426.1" width="4" height="4.7" fill="none" stroke="#26a69a" stroke-width="1"/>
<path d="M1123.5 423.0V442.5" stroke="#ef5350" stroke-width="1" fill="none"/>
<rect x="1121.0" y="424.9" width="5" height="12.6" fill="#ef5350"/>
<path d="M1129.5 415.2V418.7M1129.5 436.8V442.0" stroke="#26a69a" stroke-width="1" fill="none"/>
<rect x="1127.5" y="419.2" width="4" height="17.1" fill="none" stroke="#26a69a" stroke-width="1"/>
<path d="M1135.5 412.2V424.9" stroke="#ef5350" stroke-width="1" fill="none"/>
<rect x="1133.0" y="418.4" width="5" height="5.3" fill="#ef5350"/>
<path d="M1142.5 418.0V422.6M1142.5 423.9V423.9" stroke="#26a69a" stroke-width="1" fill="none"/>
<rect x="1140.0" y="422.6" width="5" height="1.2" fill="#26a69a"/>
<path d="M1148.5 416.1V427.2" stroke="#ef5350" stroke-width="1" fill="none"/>
<rect x="1146.0" y="423.0" width="5" height="3.7" fill="#ef5350"/>
<path d="M1154.5 417.5V419.6M1154.5 425.3V434.0" stroke="#26a69a" stroke-width="1" fill="none"/>
<rect x="1152.5" y="420.1" width="4" height="4.7" fill="none" stroke="#26a69a" stroke-width="1"/>
<path d="M1160.5 374.4V390.0M1160.5 419.1V424.4" stroke="#26a69a" stroke-width="1" fill="none"/>
<rect x="1158.5" y="390.5" width="4" height="28.1" fill="none" stroke="#26a69a" stroke-width="1"/>
<path d="M1166.5 361.1V389.4M1166.5 390.6V395.0" stroke="#26a69a" stroke-width="1" fill="none"/>
<rect x="1164.0" y="389.4" width="5" height="1.2" fill="#26a69a"/>
<path d="M1172.5 387.0V414.5" stroke="#ef5350" stroke-width="1" fill="none"/>
<rect x="1170.0" y="392.3" width="5" height="19.3" fill="#ef5350"/>
<path d="M1178.5 403.8V450.6" stroke="#ef5350" stroke-width="1" fill="none"/>
<rect x="1176.0" y="411.6" width="5" height="36.9" fill="#ef5350"/>
<path d="M1184.5 440.5V440.5M1184.5 448.5V448.5" stroke="#26a69a" stroke-width="1" fill="none"/>
<rect x="1182.5" y="441.0" width="4" height="7.0" fill="none" stroke="#26a69a" stroke-width="1"/>
<path d="M1190.5 437.5V445.0" stroke="#ef5350" stroke-width="1" fill="none"/>
<rect x="1188.0" y="440.2" width="5" height="2.3" fill="#ef5350"/>
<path d="M1196.5 440.0V464.5" stroke="#ef5350" stroke-width="1" fill="none"/>
<rect x="1194.0" y="442.5" width="5" height="15.2" fill="#ef5350"/>
<path d="M1203.5 427.8V434.5M1203.5 457.7V458.8" stroke="#26a69a" stroke-width="1" fill="none"/>
<rect x="1201.5" y="435.0" width="4" height="22.2" fill="none" stroke="#26a69a" stroke-width="1"/>
<path d="M1209.5 432.9V439.1" stroke="#ef5350" stroke-width="1" fill="none"/>
<rect x="1207.0" y="434.0" width="5" height="2.8" fill="#ef5350"/>
<line x1="10.5" y1="72.5" x2="1652" y2="72.5" stroke="#d32f2f" stroke-width="1"/>
<line x1="10.5" y1="296.5" x2="1652" y2="296.5" stroke="#d32f2f" stroke-width="1"/>
<line x1="10.5" y1="390.5" x2="1652" y2="390.5" stroke="#d32f2f" stroke-width="1"/>
<line x1="10.5" y1="473.5" x2="1652" y2="473.5" stroke="#d32f2f" stroke-width="1"/>
<line x1="10.5" y1="612.5" x2="1652" y2="612.5" stroke="#d32f2f" stroke-width="1"/>
<line x1="10.5" y1="390.5" x2="1471.3" y2="390.5" stroke="#2459fb" stroke-width="3"/>
<line x1="10.5" y1="715.4" x2="1471.3" y2="715.4" stroke="#2459fb" stroke-width="3"/>
<line x1="10.5" y1="213.4" x2="391.2" y2="754" stroke="#84a9f7" stroke-width="1.6"/>
<line x1="123" y1="27" x2="129.5" y2="48.2" stroke="#f48a8a" stroke-width="0.7"/>
<line x1="129.5" y1="27" x2="145.1" y2="55.1" stroke="#f48a8a" stroke-width="0.7"/>
<line x1="241.2" y1="27" x2="335.8" y2="195.5" stroke="#f48a8a" stroke-width="0.7"/>
<polygon points="62.4,148.7 376.2,27 605.3,27 605.3,188.9 62.4,399.4" fill="#fbd1d3" fill-opacity="0.5"/>
<line x1="10.5" y1="437.4" x2="1652" y2="437.4" stroke="#ef5350" stroke-width="1.2" stroke-dasharray="1.2 2.4"/>
<line x1="62.4" y1="148.7" x2="376.2" y2="27" stroke="#484a52" stroke-width="1.6"/>
<line x1="62.4" y1="399.4" x2="605.3" y2="188.9" stroke="#484a52" stroke-width="1.6"/>
<line x1="62.4" y1="274.0" x2="605.3" y2="63.5" stroke="#1e222d" stroke-width="2.2" stroke-dasharray="10.4 11.7" stroke-dashoffset="2"/>
<line x1="226.8" y1="336.3" x2="498.6" y2="33.4" stroke="#7f7f7f" stroke-width="2" stroke-dasharray="10 12" stroke-dashoffset="1.3"/>
<line x1="392.6" y1="27" x2="629.1" y2="340.9" stroke="#7482d6" stroke-width="1.9" stroke-opacity="0.9"/>
<line x1="428.2" y1="27.5" x2="1471.3" y2="454" stroke="#8db6f7" stroke-width="2" stroke-dasharray="10 12"/>
<line x1="62.4" y1="354.9" x2="1367.5" y2="370" stroke="#8db6f7" stroke-width="2" stroke-dasharray="10 12"/>
<line x1="306.7" y1="245.7" x2="1477.7" y2="709.3" stroke="#8db6f7" stroke-width="2" stroke-dasharray="10 12"/>
<line x1="642.5" y1="357.6" x2="642.5" y2="689" stroke="#8fb3f5" stroke-width="2.8"/>
<line x1="598" y1="688.6" x2="684.5" y2="688.6" stroke="#8fb3f5" stroke-width="2.8"/>
<circle cx="123.3" cy="390.3" r="8.4" fill="#2a2e39"/>
<circle cx="379.8" cy="714.2" r="8.5" fill="#2459fb"/>
<circle cx="1459.5" cy="709.4" r="8.4" fill="#2a2e39"/>
<text x="1281.9" y="162.4" font-size="20" fill="#000" text-anchor="middle" textLength="150.7" lengthAdjust="spacingAndGlyphs">pebblewriter.com</text>
<text x="1281.8" y="182.2" font-size="20" fill="#000" text-anchor="middle" textLength="82" lengthAdjust="spacingAndGlyphs">BTC daily</text>
<g transform="translate(1209.5 765.4)"><circle r="9.9" fill="#fff" stroke="#9c27b0" stroke-width="1.1"/><path d="M3.7 -5.3L-4.3 0.9H-0.3L-3.4 5.6L4.2 -0.9H0.4Z" fill="#9c27b0" stroke="#9c27b0" stroke-width="0.4" stroke-linejoin="round"/></g>
</g>
<text x="18.5" y="47.0" font-size="12.5" fill="#4a4e59" stroke="#4a4e59" stroke-width="0.2" textLength="93.8" lengthAdjust="spacingAndGlyphs">MA (10, close, 0)</text>
<text x="120.4" y="47.0" font-size="12.5" fill="#f23b30" stroke="#f23b30" stroke-width="0.35" textLength="49.8" lengthAdjust="spacingAndGlyphs">17050.10</text>
<text x="18.5" y="64.0" font-size="12.5" fill="#4a4e59" stroke="#4a4e59" stroke-width="0.2" textLength="95.2" lengthAdjust="spacingAndGlyphs">MA (20, close, 0)</text>
<text x="122.1" y="64.0" font-size="12.5" fill="#90caf9" stroke="#90caf9" stroke-width="0.35" textLength="51.3" lengthAdjust="spacingAndGlyphs">17053.20</text>
<text x="18.5" y="80.9" font-size="12.5" fill="#4a4e59" stroke="#4a4e59" stroke-width="0.2" textLength="95.4" lengthAdjust="spacingAndGlyphs">MA (50, close, 0)</text>
<text x="122.6" y="80.9" font-size="12.5" fill="#4527a0" stroke="#4527a0" stroke-width="0.35" textLength="51.1" lengthAdjust="spacingAndGlyphs">17304.54</text>
<text x="18.5" y="97.8" font-size="12.5" fill="#4a4e59" stroke="#4a4e59" stroke-width="0.2" textLength="101.4" lengthAdjust="spacingAndGlyphs">MA (100, close, 0)</text>
<text x="128.1" y="97.8" font-size="12.5" fill="#fbb32b" stroke="#fbb32b" stroke-width="0.35" textLength="52.7" lengthAdjust="spacingAndGlyphs">18443.02</text>
<text x="18.5" y="114.8" font-size="12.5" fill="#4a4e59" stroke="#4a4e59" stroke-width="0.2" textLength="102.7" lengthAdjust="spacingAndGlyphs">MA (200, close, 0)</text>
<text x="129.6" y="114.8" font-size="12.5" fill="#f23b30" stroke="#f23b30" stroke-width="0.35" textLength="52.2" lengthAdjust="spacingAndGlyphs">20302.18</text>
<line x1="10.5" y1="778.3" x2="1728" y2="778.3" stroke="#e0e3eb" stroke-width="1"/>
<g clip-path="url(#cr)">
<polygon points="10.5,784.4 600,780.4 814,779 1252,779 1252,790 10.5,790" fill="#fde6e8"/>
<rect x="1252" y="787" width="400" height="5" fill="#f6e9f8"/>
<polygon points="10.5,789 600,790 1200,791.5 1652,792.3 1652,802.2 10.5,801" fill="#f1c9e1"/>
<polygon points="10.5,801 1652,802.4 1652,809.5 10.5,809.5" fill="#fde6e8"/>
<line x1="10.5" y1="803.7" x2="420" y2="803.7" stroke="#f9b4b4" stroke-width="1.2"/>
<line x1="10.5" y1="805.6" x2="495" y2="806" stroke="#f39a9a" stroke-width="0.8"/>
<line x1="10.5" y1="807" x2="180" y2="809" stroke="#fbc4c4" stroke-width="0.9"/>
<line x1="60" y1="806" x2="185" y2="808.6" stroke="#fbcaca" stroke-width="0.8"/>
<polyline points="10.5,784.4 600,780.4 814,779" fill="none" stroke="#3a3540" stroke-width="1.8"/>
<line x1="10.5" y1="787.2" x2="1652" y2="787.4" stroke="#a9aeaa" stroke-width="0.9" stroke-dasharray="5 6"/>
<line x1="10.5" y1="802.3" x2="1652" y2="802.6" stroke="#a9aeaa" stroke-width="0.9" stroke-dasharray="5 6"/>
<polyline points="10.5,788.7 600,789.8 1200,791.2 1652,792" fill="none" stroke="#5b4a67" stroke-width="1.6"/>
<line x1="10.5" y1="795.2" x2="900" y2="795.9" stroke="#c3a6cb" stroke-width="1"/>
<polyline points="100,791.6 330,789.2 600,788 900,785.6 1252,784.4" fill="none" stroke="#2a2533" stroke-width="2" stroke-dasharray="10 12" stroke-dashoffset="1.4" stroke-opacity="0.9"/>
<polyline points="18,799.9 600,801.2 1200,802.8 1652,803.2" fill="none" stroke="#2a2533" stroke-width="1.8" stroke-dasharray="10 12" stroke-dashoffset="5.2"/>
<line x1="230" y1="801.6" x2="1184" y2="800.6" stroke="#f48fb1" stroke-width="0.9"/>
<polyline points="14,792.6 220,790.6 362,789.3" fill="none" stroke="#6d82f3" stroke-width="3.4" stroke-dasharray="3.4 8.5" stroke-dashoffset="3.1" stroke-opacity="0.9"/>
<polyline points="45,806.6 215,800.8 312,796.2" fill="none" stroke="#6d82f3" stroke-width="3.4" stroke-dasharray="3.4 8.5" stroke-opacity="0.9"/>
<polyline points="365,801.6 600,803.3 1192.6,805" fill="none" stroke="#8ab4f8" stroke-width="2" stroke-dasharray="10 12" stroke-dashoffset="-3.8"/>
<polyline points="10.5,794.7 25.7,797.0 36.0,800.2 43.7,803.7 57.5,803.3 67.0,804.7 74.0,805.4 81.0,803.0 88.0,801.6 97.0,802.3 102.0,801.2 109.0,800.6 125.0,800.2 150.0,801.0 175.0,800.0 200.0,796.5 215.0,798.5 220.0,800.8 229.2,796.9 240.7,795.0 249.9,795.0 261.4,790.0 272.9,790.9 289.0,792.7 300.6,796.2 307.5,795.0 314.4,790.4 335.1,791.6 348.9,793.2 360.4,794.3 367.3,792.7 376.5,793.2 384.6,791.1 390.3,793.2 397.2,791.6 411.0,790.0 422.5,790.4 434.0,792.3 445.5,794.6 452.5,800.8 459.4,799.6 473.2,799.2 488.1,797.3 498.5,801.5 505.4,801.5 512.3,799.2 526.1,800.1 542.2,799.2 551.4,799.2 560.6,801.5 572.1,799.2 581.3,792.7 597.4,790.4 603.2,795.0 615.9,796.6 604.3,795.3 610.4,795.8 617.3,797.6 627.6,795.3 636.3,797.6 641.5,797.6 653.5,799.6 659.6,796.2 669.1,797.6 677.7,798.3 686.4,796.2 696.7,795.0 707.1,795.0 720.9,797.6 733.0,791.9 743.4,793.6 755.4,795.3 765.8,794.5 776.2,797.0 788.3,795.0 800.3,796.7 812.4,793.9 822.8,795.8 833.2,796.2 843.5,795.3 849.6,793.1 855.6,794.5 866.8,788.4 872.9,790.7 878.1,790.0 880.0,789.1 893.1,790.6 904.0,791.2 910.6,793.2 916.1,793.2 920.4,789.5 927.0,788.4 933.6,791.2 939.0,792.1 953.2,803.7 959.8,798.7 967.5,800.0 978.4,800.4 989.3,798.7 1000.2,799.5 1015.5,799.3 1027.6,801.5 1037.4,797.8 1052.7,798.2 1068.0,798.7 1074.6,797.8 1081.1,793.9 1089.9,795.0 1098.6,794.5 1109.6,793.9 1116.1,794.3 1122.7,795.0 1129.2,793.2 1142.4,794.3 1153.3,793.9 1159.8,791.2 1166.4,791.2 1173.0,793.9 1178.4,797.1 1186.1,796.0 1192.6,796.5 1197.0,797.8 1203.6,795.2 1209.7,795.2" fill="none" stroke="#9c27b0" stroke-width="1.1" stroke-linejoin="round"/>
<circle cx="80.6" cy="807.8" r="8.3" fill="#2a2e39"/>
<line x1="76" y1="802" x2="81.5" y2="802" stroke="#fde6e8" stroke-width="1"/>
<circle cx="245" cy="811.2" r="8.3" fill="#2a2e39"/>
</g>
<text x="19.2" y="798.5" font-size="12.3" fill="#4a4e59" stroke="#4a4e59" stroke-width="0.2" textLength="78.3" lengthAdjust="spacingAndGlyphs">RSI (14, close)</text>
<text x="106.2" y="798.5" font-size="12.3" fill="#9c27b0" stroke="#9c27b0" stroke-width="0.25" textLength="32.5" lengthAdjust="spacingAndGlyphs">46.90</text>
<line x1="10.5" y1="809.6" x2="1728" y2="809.6" stroke="#585c67" stroke-width="1.3"/>
<line x1="1652.5" y1="27" x2="1652.5" y2="836.5" stroke="#5a5e69" stroke-width="1.1"/>
<text x="1662.4" y="44.6" font-size="11.9" fill="#555864" textLength="24.6" lengthAdjust="spacingAndGlyphs">USD</text>
<text x="1662.7" y="84.0" font-size="12.6" fill="#555864" textLength="54.2" lengthAdjust="spacingAndGlyphs">24000.00</text>
<text x="1662.7" y="133.9" font-size="12.6" fill="#555864" textLength="54.2" lengthAdjust="spacingAndGlyphs">23000.00</text>
<text x="1662.7" y="183.8" font-size="12.6" fill="#555864" textLength="54.2" lengthAdjust="spacingAndGlyphs">22000.00</text>
<text x="1662.7" y="233.7" font-size="12.6" fill="#555864" textLength="54.2" lengthAdjust="spacingAndGlyphs">21000.00</text>
<text x="1662.7" y="283.6" font-size="12.6" fill="#555864" textLength="54.2" lengthAdjust="spacingAndGlyphs">20000.00</text>
<text x="1662.7" y="333.5" font-size="12.6" fill="#555864" textLength="52.3" lengthAdjust="spacingAndGlyphs">19000.00</text>
<text x="1662.7" y="383.5" font-size="12.6" fill="#555864" textLength="52.3" lengthAdjust="spacingAndGlyphs">18000.00</text>
<text x="1662.7" y="433.4" font-size="12.6" fill="#555864" textLength="52.3" lengthAdjust="spacingAndGlyphs">17000.00</text>
<text x="1662.7" y="483.3" font-size="12.6" fill="#555864" textLength="52.3" lengthAdjust="spacingAndGlyphs">16000.00</text>
<text x="1662.7" y="533.2" font-size="12.6" fill="#555864" textLength="52.3" lengthAdjust="spacingAndGlyphs">15000.00</text>
<text x="1662.7" y="583.1" font-size="12.6" fill="#555864" textLength="52.3" lengthAdjust="spacingAndGlyphs">14000.00</text>
<text x="1662.7" y="633.0" font-size="12.6" fill="#555864" textLength="52.3" lengthAdjust="spacingAndGlyphs">13000.00</text>
<text x="1662.7" y="682.9" font-size="12.6" fill="#555864" textLength="52.3" lengthAdjust="spacingAndGlyphs">12000.00</text>
<text x="1662.7" y="732.8" font-size="12.6" fill="#555864" textLength="50.4" lengthAdjust="spacingAndGlyphs">11000.00</text>
<path d="M1652 429.1H1720.8a2 2 0 0 1 2 2V457.8a2 2 0 0 1 -2 2H1652Z" fill="#ef5350"/>
<text x="1662.9" y="441.2" font-size="12.5" fill="#fff" textLength="52.2" lengthAdjust="spacingAndGlyphs">16848.00</text>
<text x="1662.6" y="455" font-size="12.5" fill="#fff" fill-opacity="0.82" textLength="51.4" lengthAdjust="spacingAndGlyphs">09:50:58</text>
<text x="56.5" y="827.6" font-size="12" fill="#555864" text-anchor="middle">15</text>
<text x="154.1" y="827.6" font-size="12" fill="#555864" text-anchor="middle">Jul</text>
<text x="257.8" y="827.6" font-size="12" fill="#555864" text-anchor="middle">18</text>
<text x="343.2" y="827.6" font-size="12" fill="#555864" text-anchor="middle">Aug</text>
<text x="428.6" y="827.6" font-size="12" fill="#555864" text-anchor="middle">15</text>
<text x="532.3" y="827.6" font-size="12" fill="#555864" text-anchor="middle">Sep</text>
<text x="617.7" y="827.6" font-size="12" fill="#555864" text-anchor="middle">15</text>
<text x="715.3" y="827.6" font-size="12" fill="#555864" text-anchor="middle">Oct</text>
<text x="812.9" y="827.6" font-size="12" fill="#555864" text-anchor="middle">17</text>
<text x="904.4" y="827.6" font-size="12" fill="#555864" text-anchor="middle">Nov</text>
<text x="989.8" y="827.6" font-size="12" fill="#555864" text-anchor="middle">15</text>
<text x="1087.4" y="827.6" font-size="12" fill="#555864" text-anchor="middle">Dec</text>
<text x="1172.8" y="827.6" font-size="12" fill="#555864" text-anchor="middle">15</text>
<text x="1276.5" y="827.6" font-size="12.6" font-weight="bold" fill="#555864" text-anchor="middle" textLength="30.3" lengthAdjust="spacingAndGlyphs">2023</text>
<text x="1368" y="827.6" font-size="12" fill="#555864" text-anchor="middle">16</text>
<text x="1465.6" y="827.6" font-size="12" fill="#555864" text-anchor="middle">Feb</text>
<text x="1551" y="827.6" font-size="12" fill="#555864" text-anchor="middle">15</text>
<text x="1636.4" y="827.6" font-size="12" fill="#555864" text-anchor="middle">Mar</text>
<g fill="#1e222d"><path d="M10.1 849.3H18.3V858.8H13.8V853H10.1Z"/><circle cx="20.9" cy="851" r="1.7"/><path d="M23.6 849.3H29L25.8 858.8H21.3Z"/></g>
<text x="33.7" y="859.9" font-size="13.3" fill="#1e222d" textLength="73.6" lengthAdjust="spacingAndGlyphs">TradingView</text>
</svg></body></html>
